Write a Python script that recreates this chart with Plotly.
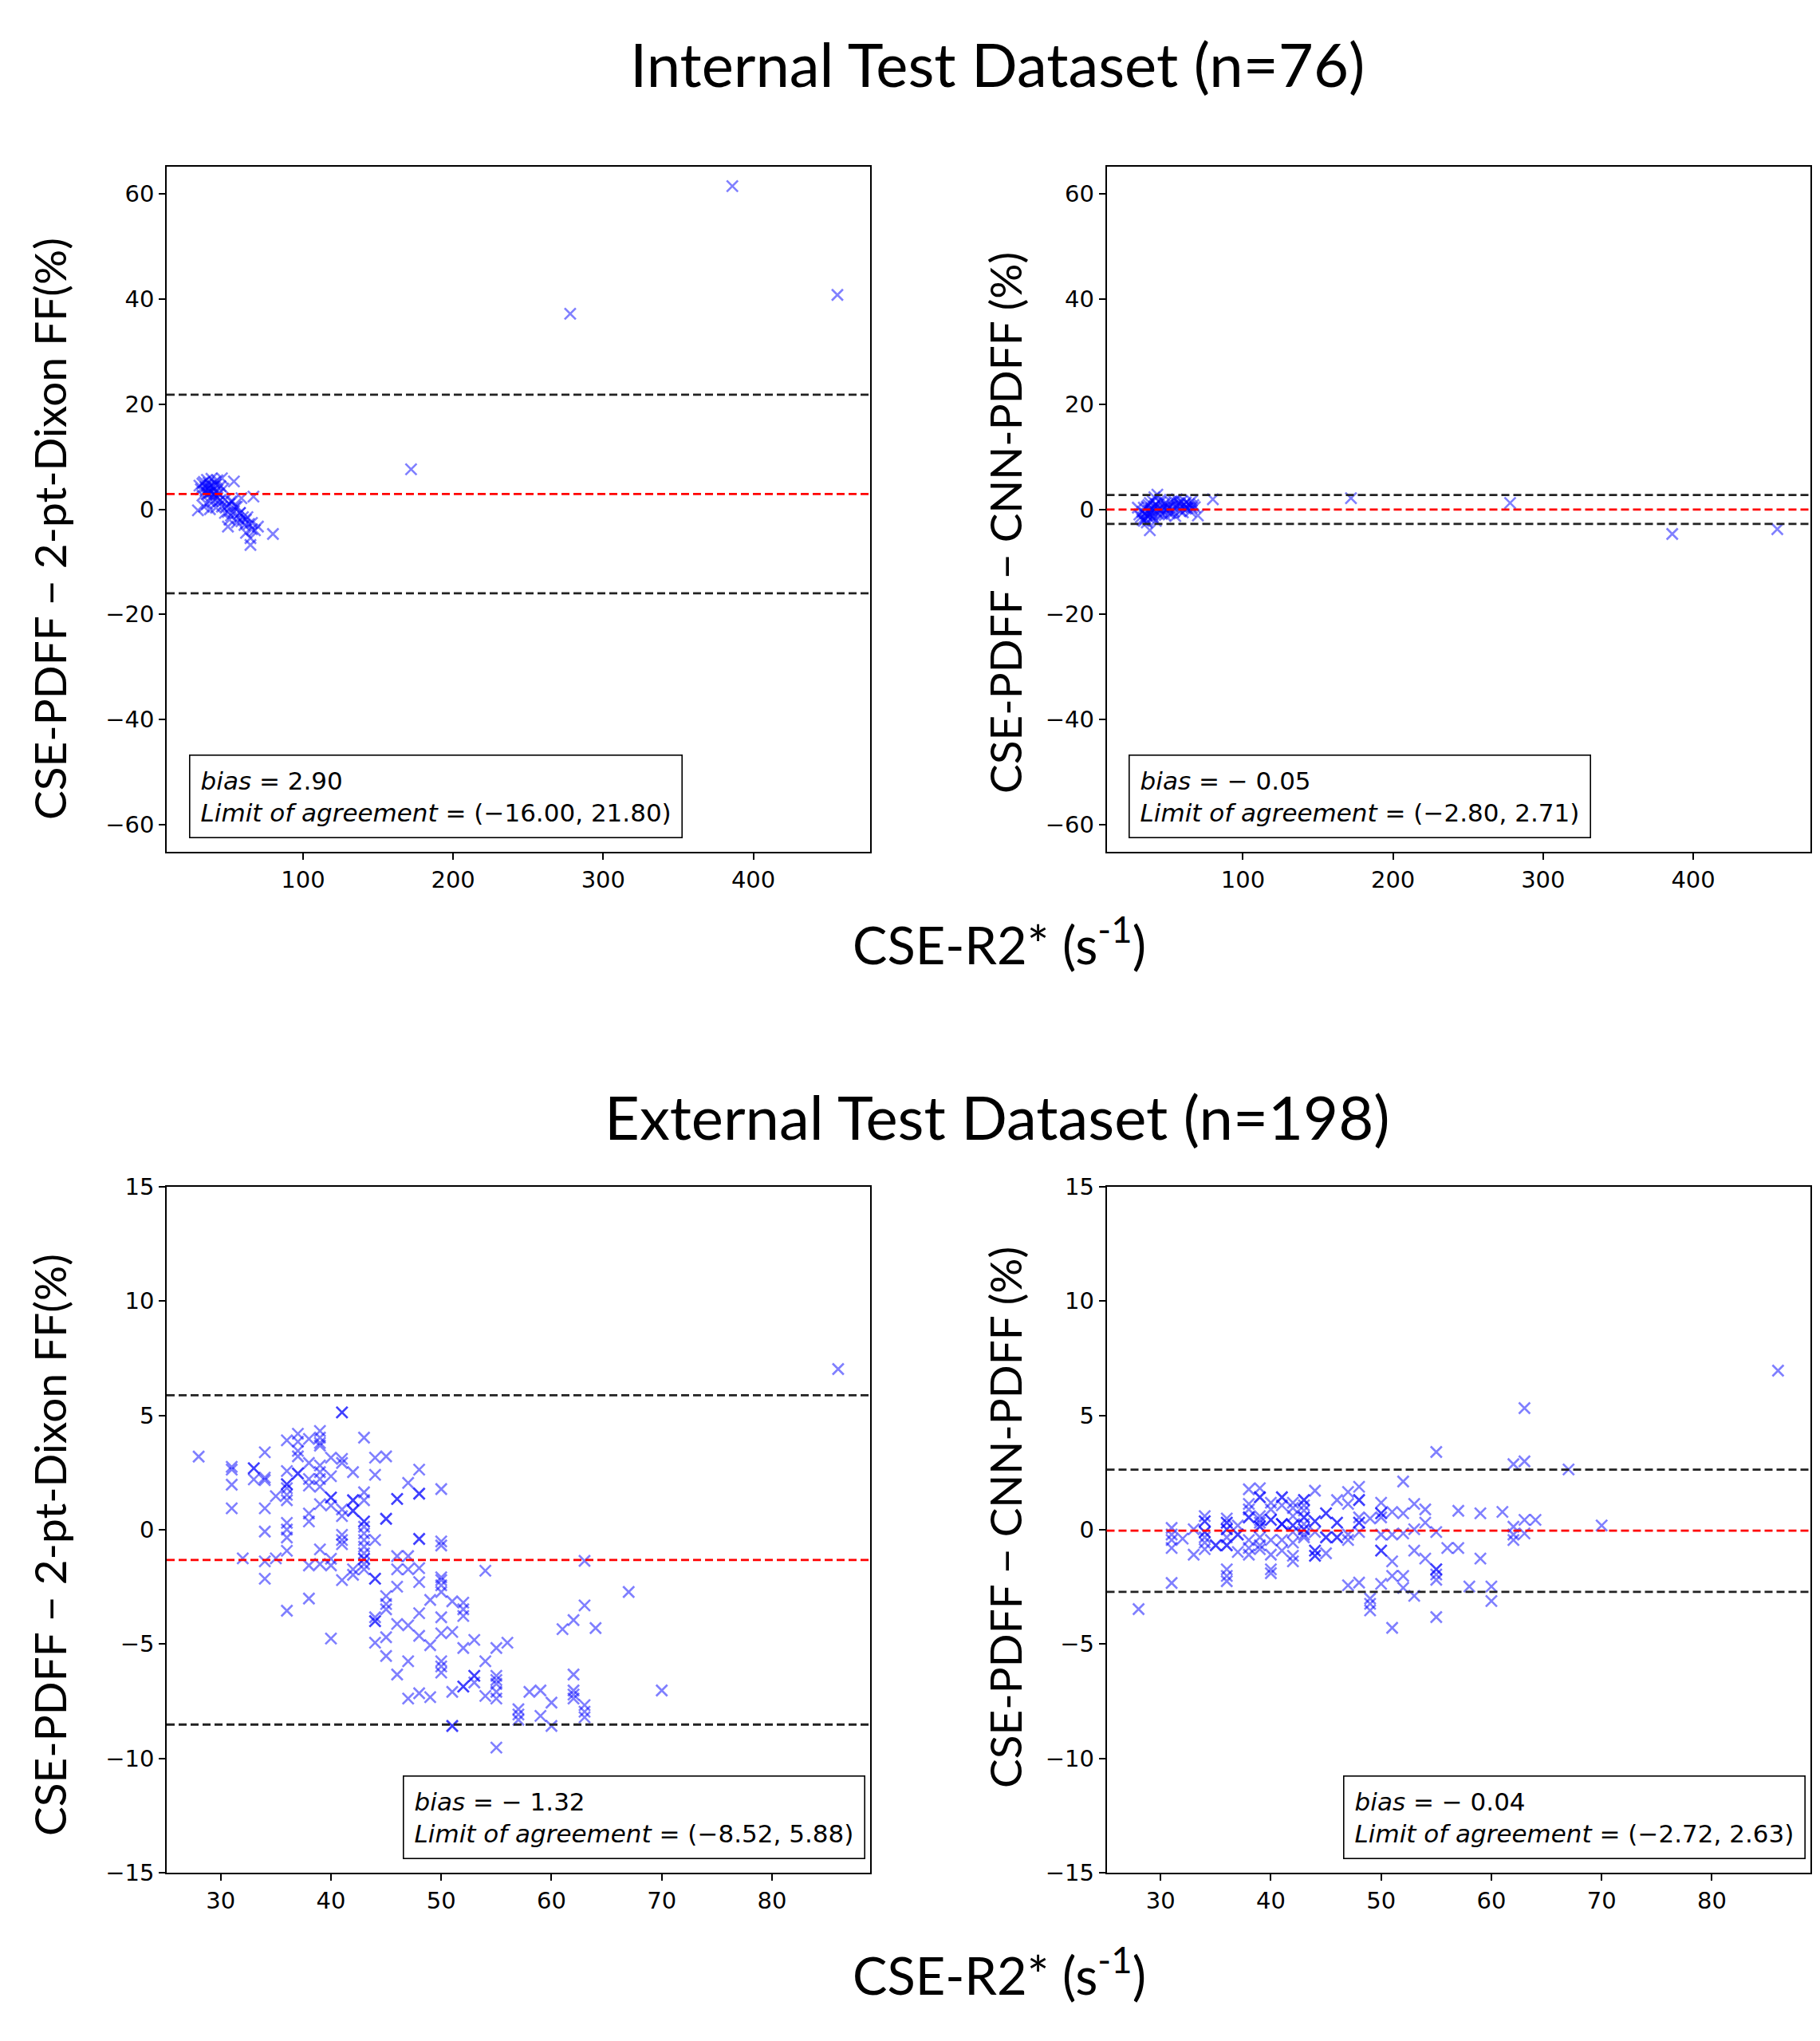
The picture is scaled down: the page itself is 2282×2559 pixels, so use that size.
import plotly.graph_objects as go

W, H = 2282, 2559
OFF = 8  # default page (body) margin of the html page, compensated in placement

# ---------------- data ----------------
# Internal test dataset (n=76): CSE-R2* (s^-1) and differences
int_r2 = [31, 32, 33, 33, 34, 35, 35, 36, 36, 37, 37, 38, 38, 39, 39, 40, 40, 41, 41, 42, 42, 43, 44, 45, 46, 47,
          48, 49, 50, 51, 51, 52, 53, 54, 54, 55, 56, 57, 58, 59, 59, 60, 61, 62, 63, 64, 65, 65, 66, 66, 67, 68, 70,
          30, 34, 36, 38, 40, 42, 44, 46, 48, 50, 52, 56, 58, 62, 45, 43, 39, 37,
          80, 172, 278, 386, 456]
int_diff_dixon = [4.5, 3.8, 4.9, 2.6, 5.2, 3.5, 4.2, 5.6, 2.9, 4.0, 5.0, 3.2, 4.6, 5.8, 2.4, 4.3, 3.6, 5.1, 2.8, 4.7, 3.4, 5.5, 3.0, 4.4, 5.9, 3.9,
                  1.8, 0.5, -0.5, -2.0, 1.0, -1.2, 1.5, 5.3, -0.4, 0.5, -2.5, -1.7, -0.7, 2.1, -2.3, -1.5, -3.0, -4.5, -1.5, -2.8, -5.5, -6.8, -3.8, -2.6, 2.4, -4.0, -3.3,
                  -0.2, 0.5, 1.0, 0.0, 1.5, 0.3, 1.5, 0.5, -0.7, -3.3, 1.5, 0.5, -0.7, -2.0, 1.8, 2.2, 3.3, 3.0,
                  -4.7, 7.6, 37.2, 61.5, 40.8]
int_diff_cnn = [-1.0, -1.5, -0.5, -2.0, 0.3, -0.8, -1.8, 0.5, -1.2, 0.8, -0.3, 1.2, -1.0, 0.2, -0.6, 1.5, -1.4, 2.3, 0.6, 1.0, -0.4, 2.8, 0.0, 1.3, -0.9, 0.4,
                1.1, -0.2, 0.9, 0.3, -0.8, 1.4, 0.6, -0.5, 1.6, -1.3, 0.7, 1.2, -0.3, 0.5, 1.5, -0.6, 0.9, 1.3, 0.2, 1.0, 0.7, -0.4, 1.6, 0.3, 0.8, 0.4, -1.2,
                0.3, -2.2, -2.5, -4.0, -1.8, -2.2, -1.0, 0.0, -1.1, 0.2, -0.7, 1.9, 1.0, 0.1, 1.8, 0.5, -0.2, -1.5,
                1.9, 2.1, 1.2, -4.7, -3.8]

# External test dataset (n=198): CSE-PDFF - 2-pt-Dixon FF panel
ext_r2_dixon = ([28] + [31] * 4 + [32] + [33] * 3 + [34] * 7 + [35] * 2 + [36] * 12 + [37] * 6 + [38] * 8 +
                [39] * 11 + [40] * 8 + [41] * 10 + [42] * 7 + [43] * 14 + [44] * 9 + [45] * 8 + [46] * 7 +
                [47] * 6 + [48] * 10 + [49] * 3 + [50] * 12 + [51] * 5 + [52] * 6 + [53] * 4 + [54] * 3 +
                [55] * 7 + [56] + [57] * 3 + [58] + [59] * 2 + [60] * 2 + [61] + [62] * 5 + [63] * 5 +
                [64] + [67] + [70] + [86])
ext_diff_dixon = [3.2,
                  2.75, 2.63, 1.97, 0.94,
                  -1.25,
                  2.69, 2.69, 2.2,
                  3.39, 2.28, 2.17, 0.94, -0.08, -1.38, -2.14,
                  1.47, -1.25,
                  3.91, 2.57, 1.99, 1.99, 1.82, 1.53, 1.29, 0.30, 0.01, -0.34, -0.92, -3.54,
                  4.20, 3.85, 3.45, 3.21, 2.46, 2.46,
                  3.97, 2.92, 2.22, 1.93, 0.71, 0.36, -1.56, -3.01,
                  4.32, 4.03, 3.80, 3.68, 2.81, 2.52, 2.22, 1.88, 1.12, -0.86, -1.50,
                  3.15, 2.34, 1.41, 1.41, 1.06, -1.27, -1.56, -4.76,
                  5.13, 5.13, 3.10, 2.92, 0.89, 0.60, -0.22, -0.45, -0.63, -2.20,
                  2.52, 1.29, 1.29, 0.83, 0.83, -1.73, -1.97,
                  4.03, 1.64, 1.29, 0.36, 0.36, 0.13, -0.16, -0.45, -0.74, -1.03, -1.27, -1.27, -1.50, -1.73,
                  3.15, 2.40, -0.45, -2.14, -2.14, -3.83, -4.0, -4.0, -4.94,
                  3.21, 0.48, 0.48, -2.90, -3.25, -3.48, -4.70, -5.52,
                  1.35, 1.35, -1.15, -1.73, -2.49, -4.12, -6.33,
                  2.05, -1.15, -1.73, -4.18, -5.75, -7.38,
                  2.63, 1.58, 1.58, -0.40, -0.40, -1.68, -2.29, -3.65, -4.64, -7.15,
                  -3.07, -5.05, -7.32,
                  1.78, -0.51, -0.69, -2.08, -2.2, -2.43, -2.72, -3.83, -4.53, -5.75, -5.98, -6.25,
                  -3.13, -4.47, -7.09, -8.58, -8.58,
                  -3.19, -3.48, -3.77, -5.17, -6.86, -6.86,
                  -4.82, -6.39, -6.39, -6.68,
                  -1.79, -5.75, -7.27,
                  -5.17, -6.39, -6.57, -6.74, -7.09, -7.38, -9.53,
                  -4.94,
                  -7.85, -8.08, -8.31,
                  -7.09,
                  -7.03, -8.14,
                  -7.56, -8.58,
                  -4.35,
                  -3.95, -6.33, -7.03, -7.21, -7.38,
                  -1.36, -3.31, -7.67, -7.96, -8.2,
                  -4.30,
                  -2.72,
                  -7.03,
                  7.03]

# External test dataset: CSE-PDFF - CNN-PDFF panel
ext_r2_cnn = ([28] + [31] * 5 + [32] + [33] * 2 + [34] * 8 + [35] * 2 + [36] * 11 + [37] * 4 + [38] * 8 +
              [39] * 11 + [40] * 8 + [41] * 8 + [42] * 9 + [43] * 11 + [44] * 8 + [45] * 5 + [46] * 5 +
              [47] * 5 + [48] * 8 + [49] * 4 + [50] * 8 + [51] * 5 + [52] * 5 + [53] * 4 + [54] * 3 +
              [55] * 7 + [56] + [57] * 2 + [58] + [59] * 2 + [60] * 2 + [61] + [62] * 4 + [63] * 4 +
              [64] + [67] + [70] + [86])
ext_diff_cnn = [-3.47,
                0.08, -0.21, -0.45, -0.80, -2.33,
                -0.39,
                0.02, -1.09,
                0.60, 0.37, 0.37, -0.10, -0.10, -0.33, -0.56, -0.85,
                -0.68, -0.68,
                0.49, 0.31, 0.31, 0.02, 0.02, -0.33, -0.68, -0.68, -1.73, -2.02, -2.25,
                0.19, -0.21, -0.21, -0.97,
                1.77, 1.13, 0.89, 0.54, 0.54, -0.45, -0.80, -1.09,
                1.82, 1.42, 1.42, 0.60, 0.43, 0.31, 0.14, 0.14, -0.33, -0.68, -0.85,
                1.18, 0.89, 0.43, 0.43, -0.45, -1.09, -1.73, -1.90,
                1.42, 1.42, 1.07, 0.25, 0.25, 0.25, -0.45, -0.91,
                1.18, 0.95, 0.60, 0.19, 0.19, -0.10, -0.56, -1.14, -1.38,
                1.30, 1.30, 1.07, 0.84, 0.54, 0.54, 0.25, 0.02, 0.02, -0.21, -0.33,
                1.71, 0.37, 0.37, -0.10, -0.91, -0.91, -1.14, -1.14,
                0.72, 0.72, -0.33, -0.33, -1.03,
                1.30, 0.31, 0.31, -0.33, -0.33,
                1.65, 1.13, -0.21, -0.45, -2.43,
                1.88, 1.30, 1.30, 0.54, 0.31, 0.31, -0.10, -2.31,
                0.49, -3.01, -3.24, -3.53,
                1.18, 0.72, 0.72, 0.54, -0.21, -0.91, -0.91, -2.37,
                0.78, -0.21, -1.38, -2.02, -4.29,
                2.11, 0.72, -0.16, -2.02, -2.54,
                1.13, 0.02, -0.91, -2.89,
                0.89, 0.31, -1.26,
                3.40, -0.10, -1.73, -1.73, -1.96, -2.19, -3.82,
                -0.80,
                0.83, -0.80,
                -2.48,
                0.72, -1.26,
                -2.48, -3.12,
                0.78,
                2.87, 0.13, -0.21, -0.45,
                5.32, 2.99, 0.43, -0.16,
                0.43,
                2.64,
                0.19,
                6.96]

# Bland-Altman statistics shown in each panel (TL, TR, BL, BR)
panel_bias = [2.90, -0.05, -1.32, -0.04]
panel_loa_low = [-16.00, -2.80, -8.52, -2.72]
panel_loa_high = [21.80, 2.71, 5.88, 2.63]

int_xticks = [100, 200, 300, 400]
int_yticks = [-60, -40, -20, 0, 20, 40, 60]
ext_xticks = [30, 40, 50, 60, 70, 80]
ext_yticks = [-15, -10, -5, 0, 5, 10, 15]

titles = ["Internal Test Dataset (n=76)", "External Test Dataset (n=198)"]
ylabels = ["CSE-PDFF − 2-pt-Dixon FF(%)", "CSE-PDFF − CNN-PDFF (%)"]
xlabel = "CSE-R2* (s<sup>-1</sup>)"


# ---------------- layout helpers ----------------
def fx(px):
    return (px - OFF) / W


def fy(py):
    return 1 - (py - OFF) / H


X_DOM = [[fx(209), fx(1091)], [fx(1387.5), fx(2269.5)]]
Y_DOM = [[fy(1068), fy(209)], [fy(2348), fy(1488)]]

TICK_FONT = dict(family="DejaVu Sans", size=29, color="black")
BIG_FONT = "Lato, 'Open Sans', sans-serif"

fig = go.Figure()

panels = [
    (int_r2, int_diff_dixon, 0, 0, [9.2, 477.8], [-65.2, 65.2], int_xticks, int_yticks),
    (int_r2, int_diff_cnn, 1, 0, [9.2, 477.8], [-65.2, 65.2], int_xticks, int_yticks),
    (ext_r2_dixon, ext_diff_dixon, 0, 1, [25.1, 88.9], [-15, 15], ext_xticks, ext_yticks),
    (ext_r2_cnn, ext_diff_cnn, 1, 1, [25.1, 88.9], [-15, 15], ext_xticks, ext_yticks),
]

layout_axes = {}
shapes = []
annotations = []


def fmt(v):
    return f"{v:.2f}" if v >= 0 else f"− {abs(v):.2f}"


def fmt2(v):
    return f"{v:.2f}" if v >= 0 else f"−{abs(v):.2f}"


for i, (xs, ys, col, row, xr, yr, xt, yt) in enumerate(panels):
    n = i + 1
    sfx = "" if n == 1 else str(n)
    xa, ya = "x" + sfx, "y" + sfx
    fig.add_trace(go.Scatter(
        x=xs, y=ys, mode="markers", xaxis=xa, yaxis=ya, showlegend=False,
        marker=dict(symbol="x-thin", size=14,
                    line=dict(width=2.6, color="rgba(0,0,255,0.5)")),
    ))
    common = dict(showline=True, linecolor="black", linewidth=1.6, mirror=True,
                  showgrid=False, zeroline=False, ticks="outside", ticklen=8,
                  tickwidth=1.5, tickcolor="black", tickfont=TICK_FONT, automargin=False)
    layout_axes["xaxis" + sfx] = dict(domain=X_DOM[col], anchor=ya, range=xr,
                                      tickvals=xt, ticktext=[str(v) for v in xt], **common)
    layout_axes["yaxis" + sfx] = dict(domain=Y_DOM[row], anchor=xa, range=yr,
                                      tickvals=yt, ticktext=[str(v).replace("-", "−") for v in yt], **common)

    # limits of agreement and bias lines
    for val, colr in [(panel_loa_high[i], "#222222"), (panel_loa_low[i], "#222222"), (panel_bias[i], "red")]:
        shapes.append(dict(type="line", xref=xa + " domain", x0=0, x1=1, yref=ya, y0=val, y1=val,
                           line=dict(color=colr, width=2.8, dash="10px,5px"), layer="above"))

    txt = (f"<i>bias</i> = {fmt(panel_bias[i])}<br>"
           f"<i>Limit of agreement</i> = ({fmt2(panel_loa_low[i])}, {fmt2(panel_loa_high[i])})")
    if row == 0:
        ax_x, anchor = 0.0315, "left"
    else:
        ax_x, anchor = 0.9935, "right"
    annotations.append(dict(
        text=txt, xref=xa + " domain", yref=ya + " domain", x=ax_x, y=0.0195,
        xanchor=anchor, yanchor="bottom", showarrow=False, align="left",
        font=dict(family="DejaVu Sans", size=31, color="black"),
        bordercolor="black", borderwidth=1.6, borderpad=13, bgcolor="white"))

# Titles, shared x labels, y labels
title_y = [fy(80), fy(1399)]
xlabel_y = [fy(1180), fy(2472)]
for r in range(2):
    annotations.append(dict(text=titles[r], xref="paper", yref="paper", x=fx(1251), y=title_y[r],
                            xanchor="center", yanchor="middle", showarrow=False,
                            font=dict(family=BIG_FONT, size=76, color="black")))
    annotations.append(dict(text=xlabel, xref="paper", yref="paper", x=fx(1253), y=xlabel_y[r],
                            xanchor="center", yanchor="middle", showarrow=False,
                            font=dict(family=BIG_FONT, size=65, color="black")))

ylab_pos = [(62, 663, 0), (1260, 656, 1), (62, 1937, 0), (1260, 1903, 1)]
for (px, py, k) in ylab_pos:
    annotations.append(dict(text=ylabels[k], xref="paper", yref="paper", x=fx(px), y=fy(py),
                            xanchor="center", yanchor="middle", showarrow=False, textangle=-90,
                            font=dict(family=BIG_FONT, size=55, color="black")))

fig.update_layout(
    width=W, height=H, margin=dict(l=0, r=0, t=0, b=0, autoexpand=False),
    paper_bgcolor="white", plot_bgcolor="white",
    shapes=shapes, annotations=annotations, **layout_axes,
)

fig.write_html("out.html")
